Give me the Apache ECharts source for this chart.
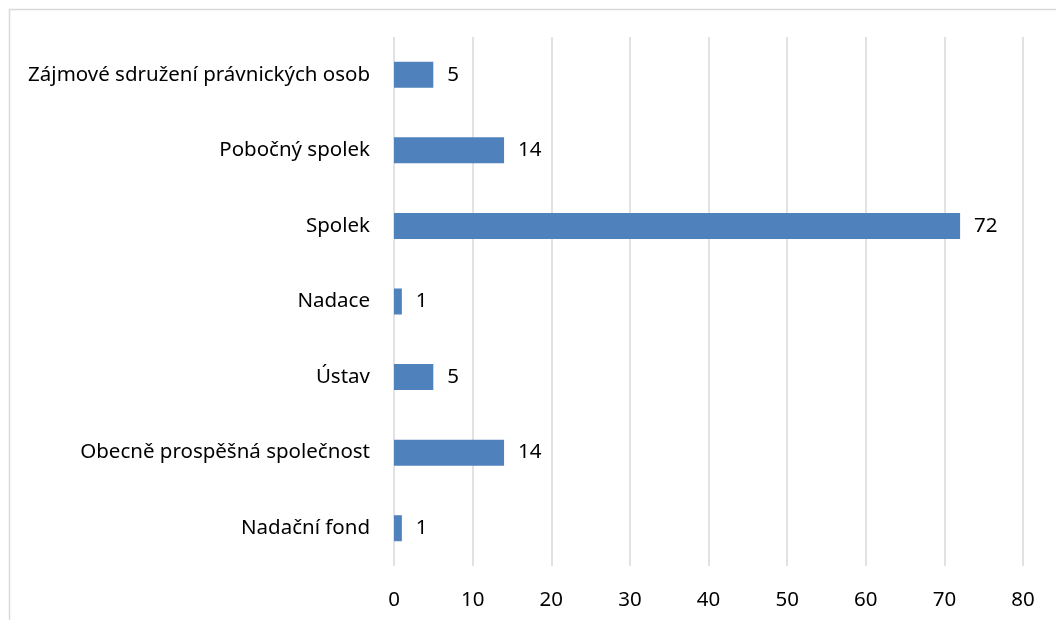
<!DOCTYPE html>
<html>
<head>
<meta charset="utf-8">
<script src="https://cdn.jsdelivr.net/npm/echarts@6/dist/echarts.min.js"></script>
<style>
  html, body { margin: 0; padding: 0; background: #fff; }
  #chart { width: 1056px; height: 620px; }
</style>
</head>
<body>
<div id="chart"></div>
<script>
// categories listed bottom to top, as the category axis draws them
const categories = [
  'Nadační fond',
  'Obecně prospěšná společnost',
  'Ústav',
  'Nadace',
  'Spolek',
  'Pobočný spolek',
  'Zájmové sdružení právnických osob'
];
const counts = [1, 14, 5, 1, 72, 14, 5];
const xTicks = { min: 0, max: 80, interval: 10 };

const chart = echarts.init(document.getElementById('chart'));
const fontFamily = '"Noto Sans", "Open Sans", sans-serif';
const fontSize = 20.5;

const option = {
  animation: false,
  // outer chart frame, partly cut off at right and bottom
  graphic: [{
    type: 'rect',
    left: 7, top: 7,
    shape: { width: 1100, height: 700 },
    style: { fill: 'none', stroke: '#d9d9d9', lineWidth: 1.5 },
    silent: true
  }],
  grid: { left: 394, right: 33, top: 37, bottom: 54 },
  xAxis: {
    type: 'value',
    min: xTicks.min,
    max: xTicks.max,
    interval: xTicks.interval,
    axisLine: { show: false },
    axisTick: { show: false },
    axisLabel: { color: '#000', fontSize: fontSize, fontFamily: fontFamily, margin: 24 },
    splitLine: { lineStyle: { color: '#d9d9d9', width: 1.5 } }
  },
  yAxis: {
    type: 'category',
    data: categories,
    axisLine: { show: false },
    axisTick: { show: false },
    axisLabel: { color: '#000', fontSize: fontSize, fontFamily: fontFamily, margin: 24 }
  },
  series: [{
    type: 'bar',
    data: counts,
    barWidth: 26,
    itemStyle: { color: '#4f81bd' },
    label: {
      show: true,
      position: 'right',
      distance: 14,
      color: '#000',
      fontSize: fontSize,
      fontFamily: fontFamily
    }
  }]
};

chart.setOption(option);
window.addEventListener('resize', () => chart.resize());
</script>
</body>
</html>
